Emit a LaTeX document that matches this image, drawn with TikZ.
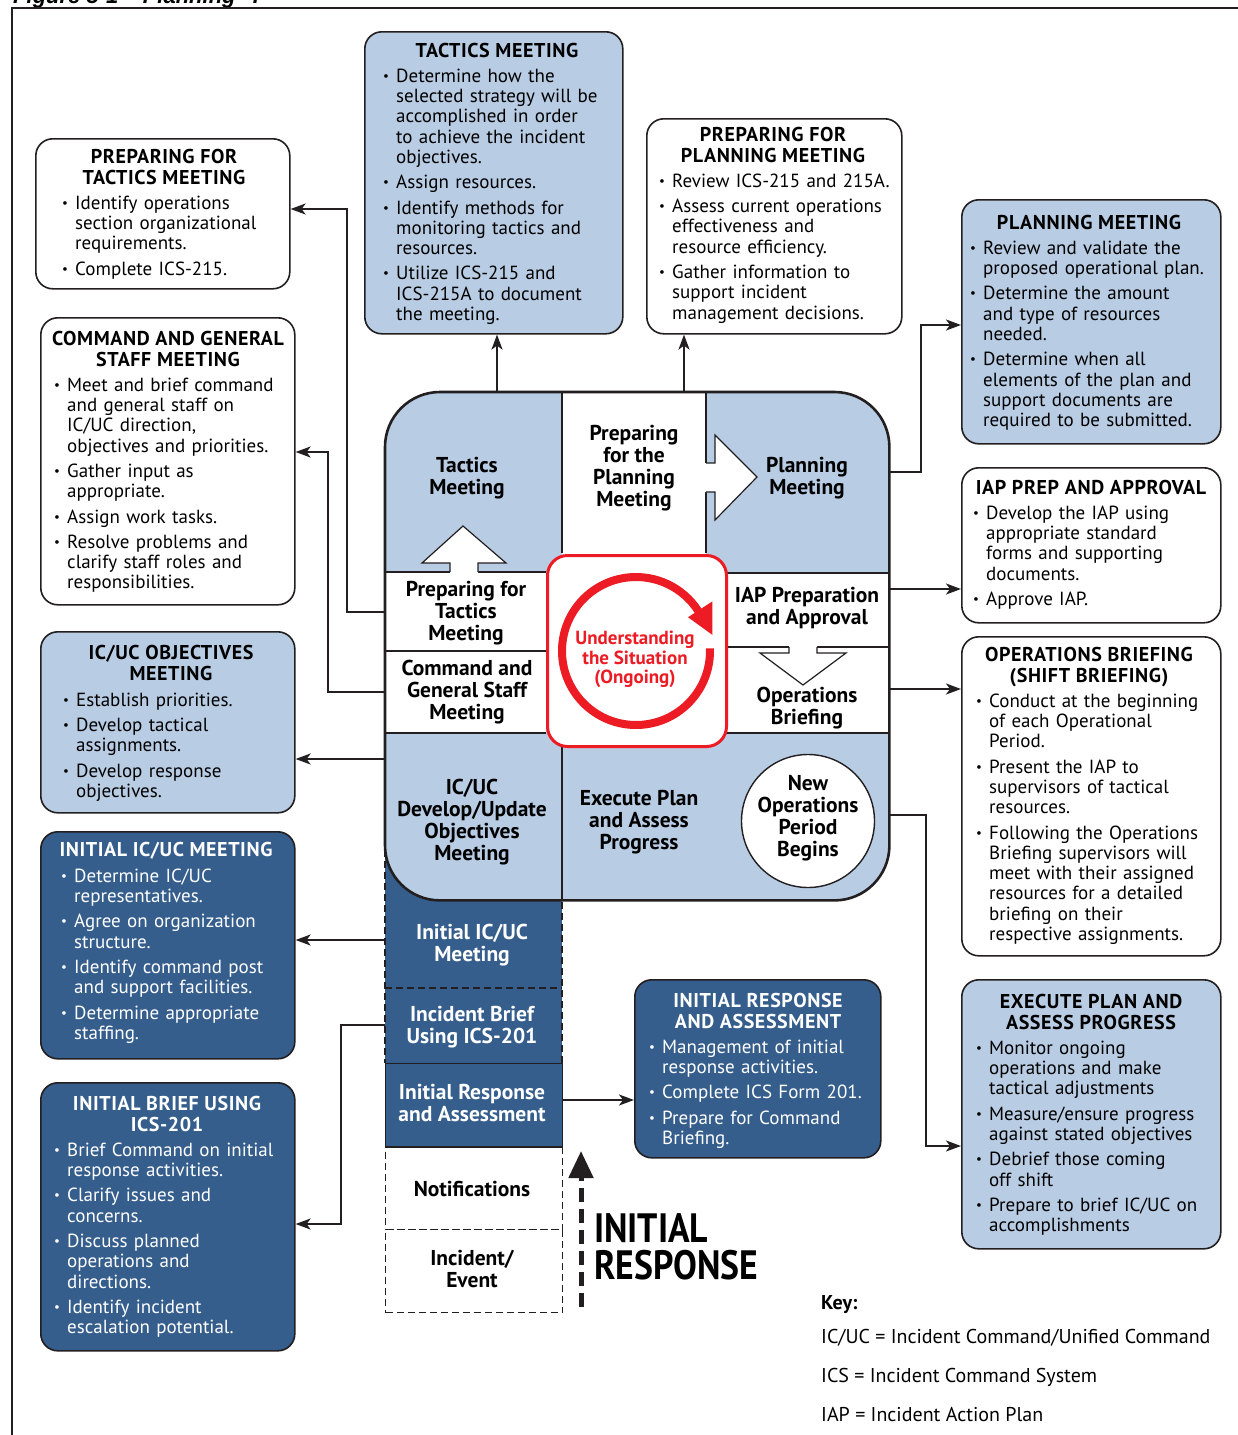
\documentclass[tikz,border=0pt]{standalone}
\usepackage{fontspec}
\usepackage{graphicx}
\setmainfont{PT Sans}
\newfontfamily\figfont{Liberation Sans}
\usetikzlibrary{arrows.meta,calc}

\definecolor{lb}{HTML}{B8CCE4}
\definecolor{db}{HTML}{355E8D}
\definecolor{rd}{HTML}{ED1C24}
\definecolor{ink}{HTML}{231F20}

\newcommand\bodyfont{\fontsize{19}{20.3}\selectfont}
\newcommand\headfont{\fontsize{20}{20.3}\selectfont\bfseries\addfontfeature{LetterSpace=3}}
\newcommand\cellfont{\fontsize{21.5}{22}\selectfont}
\newlength\bulw \setlength\bulw{13pt}
\newcommand\bulmark{\makebox[\bulw][l]{\raisebox{2pt}{\fontsize{13}{13}\selectfont •}}}
\newcommand\bulfirst{\noindent\hangindent=\bulw\hangafter=1\strut\bulmark}
\newcommand\bul{\par\vspace{5pt}\noindent\hangindent=\bulw\hangafter=1\bulmark}
\newcommand\nl{\newline}

\tikzset{
  panel/.style={draw=ink, line width=1.6pt, rounded corners=17pt, anchor=north west, inner sep=0pt},
  boxtitle/.style={anchor=north, align=center, inner sep=0pt, font=\headfont},
  boxitems/.style={anchor=north west, inner sep=0pt, text width=300pt, font=\bodyfont\raggedright},
  cell/.style={anchor=north, align=center, inner sep=0pt, font=\cellfont\bfseries},
  link/.style={draw=ink, line width=1.8pt, -{Stealth[length=15pt,width=11pt,inset=4pt]}},
  inner/.style={draw=ink, line width=1.3pt},
  dashline/.style={draw=ink, line width=1.2pt, dash pattern=on 7pt off 4pt},
  blockarrow/.style={fill=white},
  blockedge/.style={draw=ink, line width=1.2pt},
}

\begin{document}
\begin{tikzpicture}[x=1pt,y=-1pt]
\useasboundingbox (0,0) rectangle (1238,1435);

% page heading and frame
\node[anchor=base west, inner sep=0pt, font=\figfont\fontsize{22}{24}\selectfont\bfseries\itshape] (fig) at (13,3) {Figure 5-1 – Planning “P”};
\draw[ink, line width=2pt] (12,1435) -- (12,8) -- (1238,8);

% ---------- initial response column ----------
\node[fill=db, minimum width=177pt, minimum height=143pt, anchor=north west, inner sep=0pt] (c1) at (385,845) {};
\node[fill=db, minimum width=177pt, minimum height=75pt, anchor=north west, inner sep=0pt] (c2) at (385,988) {};
\draw[dashline] (385,850) -- (385,1063);
\draw[dashline] (562,880) -- (562,1063);
\draw[dashline] (385,988) -- (562,988);
\node[fill=db, draw=ink, line width=1.4pt, minimum width=177pt, minimum height=84pt, anchor=north west, inner sep=0pt] (c3) at (385,1063) {};
\node[dashline, minimum width=177pt, minimum height=82pt, anchor=north west, inner sep=0pt] (c4) at (385,1147) {};
\node[dashline, minimum width=177pt, minimum height=83pt, anchor=north west, inner sep=0pt] (c5) at (385,1229) {};
\draw[ink, line width=1.4pt] (c4.north west) -- (c4.north east);

\node[cell, text=white] (c1t) at (472,923.6) {\strut Initial IC/UC\\Meeting};
\node[cell, text=white] (c2t) at (472,1005.6) {\strut Incident Brief\\Using ICS-201};
\node[cell, text=white] (c3t) at (472,1083.6) {\strut Initial Response\\and Assessment};
\node[cell] (c4t) at (472,1180.6) {\strut Notifications};
\node[cell] (c5t) at (472,1249.6) {\strut Incident/\\Event};

% ---------- central planning cycle ----------
\node[fill=lb, rounded corners=55pt, minimum width=504pt, minimum height=508pt, anchor=north west, inner sep=0pt] (core) at (385,392) {};
\fill[white] (562,392) rectangle (706,560);
\fill[white] (385,572) rectangle (546,733);
\fill[white] (725,573) rectangle (889,733);

\draw[inner] (562,392) -- (562,553);
\draw[inner] (706,392) -- (706,463);
\draw[inner] (706,492) -- (706,553);
\draw[inner] (385,572) -- (546,572);
\draw[inner] (385,651) -- (546,651);
\draw[inner] (385,733) -- (546,733);
\draw[inner] (725,573) -- (889,573);
\draw[inner] (725,647) -- (889,647);
\draw[inner] (725,733) -- (889,733);
\draw[inner] (562,745) -- (562,900);

% hollow block arrows
\fill[blockarrow] (450,573) -- (450,563) -- (422,563) -- (463,526) -- (506,563) -- (478,563) -- (478,573) -- cycle;
\draw[blockedge] (450,572) -- (450,563) -- (422,563) -- (463,526) -- (506,563) -- (478,563) -- (478,572);
\fill[blockarrow] (705,463) -- (715,463) -- (715,435) -- (757,477) -- (715,520) -- (715,492) -- (705,492) -- cycle;
\draw[blockedge] (706,463) -- (715,463) -- (715,435) -- (757,477) -- (715,520) -- (715,492) -- (706,492);
\fill[blockarrow] (789,646) -- (789,653) -- (760,653) -- (803,685) -- (846,653) -- (817,653) -- (817,646) -- cycle;
\draw[blockedge] (789,647) -- (789,653) -- (760,653) -- (803,685) -- (846,653) -- (817,653) -- (817,647);

\node[circle, draw=ink, fill=white, line width=1.4pt, minimum size=133pt, inner sep=0pt] (nop) at (808,821) {};

\node[cell] (tmc) at (467,456.6) {\strut Tactics\\Meeting};
\node[cell] (ppc) at (634,424.6) {\strut Preparing\\for the\\Planning\\Meeting};
\node[cell] (pmc) at (807,456.6) {\strut Planning\\Meeting};
\node[cell] (ptc) at (466,580.6) {\strut Preparing for\\Tactics\\Meeting};
\node[cell] (cgc) at (467,659.6) {\strut Command and\\General Staff\\Meeting};
\node[cell] (iapc) at (807,586.6) {\strut IAP Preparation\\and Approval};
\node[cell] (obc) at (807,686.6) {\strut Operations\\Briefing};
\node[cell] (objc) at (472,778.6) {\strut IC/UC\\Develop/Update\\Objectives\\Meeting};
\node[cell] (epc) at (639,789.6) {\strut Execute Plan\\and Assess\\Progress};
\node[cell] (nopt) at (808,774.6) {\strut New\\Operations\\Period\\Begins};

% situation awareness loop
\node[draw=rd, fill=white, line width=3pt, rounded corners=20pt, minimum width=179pt, minimum height=191pt, anchor=north west, inner sep=0pt] (sit) at (546,554) {};
\coordinate (uc) at (636,651);
\draw[rd, line width=8pt] ($(uc)+(-2:74)$) arc[start angle=-2, end angle=331, radius=74];
\fill[rd] ($(uc)+(348:78)$) -- ($(uc)+(327:62)$) -- ($(uc)+(327:91)$) -- cycle;
\node[anchor=north, align=center, inner sep=0pt, text=rd, font=\fontsize{19}{19.5}\selectfont\bfseries] (sitt) at (635,631) {\strut Understanding\\the Situation\\(Ongoing)};

\draw[ink, line width=2.6pt, rounded corners=55pt] (core.north west) rectangle (core.south east);

% ---------- description panels ----------
% left
\node[panel, fill=white, minimum width=254pt, minimum height=150pt] (ptm) at (35,138) {};
\node[boxtitle] (ptmh) at (164,148.8) {\strut PREPARING FOR\\TACTICS MEETING};
\node[boxitems] (ptml) at (62,194.8) {\bulfirst Identify operations\nl section organizational\nl requirements.
\bul Complete ICS-215.\par};

\node[panel, fill=white, minimum width=254pt, minimum height=287pt] (cgs) at (40,317) {};
\node[boxtitle] (cgsh) at (168,330.8) {\strut COMMAND AND GENERAL\\STAFF MEETING};
\node[boxitems] (cgsl) at (54,376.8) {\bulfirst Meet and brief command\nl and general staff on\nl IC/UC direction,\nl objectives and priorities.
\bul Gather input as\nl appropriate.
\bul Assign work tasks.
\bul Resolve problems and\nl clarify staff roles and\nl responsibilities.\par};

\node[panel, fill=lb, minimum width=254pt, minimum height=181pt] (obj) at (40,631) {};
\node[boxtitle] (objh) at (171,644.8) {\strut IC/UC OBJECTIVES\\MEETING};
\node[boxitems] (objl) at (63,691.8) {\bulfirst Establish priorities.
\bul Develop tactical\nl assignments.
\bul Develop response\nl objectives.\par};

\node[panel, fill=db, minimum width=254pt, minimum height=227pt] (iic) at (40,831) {};
\node[boxtitle, text=white] (iich) at (166,841.8) {\strut INITIAL IC/UC MEETING};
\node[boxitems, text=white] (iicl) at (61,867.8) {\bulfirst Determine IC/UC\nl representatives.
\bul Agree on organization\nl structure.
\bul Identify command post\nl and support facilities.
\bul Determine appropriate\nl staffing.\par};

\node[panel, fill=db, minimum width=254pt, minimum height=268pt] (ib) at (40,1082) {};
\node[boxtitle, text=white] (ibh) at (167,1095.8) {\strut INITIAL BRIEF USING\\ICS-201};
\node[boxitems, text=white] (ibl) at (54,1141.8) {\bulfirst Brief Command on initial\nl response activities.
\bul Clarify issues and\nl concerns.
\bul Discuss planned\nl operations and\nl directions.
\bul Identify incident\nl escalation potential.\par};

% top
\node[panel, fill=lb, minimum width=258pt, minimum height=302pt] (tm) at (364,31) {};
\node[boxtitle] (tmh) at (497,42.8) {\strut TACTICS MEETING};
\node[boxitems] (tml) at (383,67.8) {\bulfirst Determine how the\nl selected strategy will be\nl accomplished in order\nl to achieve the incident\nl objectives.
\bul Assign resources.
\bul Identify methods for\nl monitoring tactics and\nl resources.
\bul Utilize ICS-215 and\nl ICS-215A to document\nl the meeting.\par};

\node[panel, fill=white, minimum width=255pt, minimum height=215pt] (ppm) at (646,118) {};
\node[boxtitle] (ppmh) at (773,126.8) {\strut PREPARING FOR\\PLANNING MEETING};
\node[boxitems] (ppml) at (659,172.8) {\bulfirst Review ICS-215 and 215A.
\bul Assess current operations\nl effectiveness and\nl resource efficiency.
\bul Gather information to\nl support incident\nl management decisions.\par};

% right
\node[panel, fill=lb, minimum width=259pt, minimum height=244pt] (pm) at (961,199) {};
\node[boxtitle] (pmh) at (1089,214.8) {\strut PLANNING MEETING};
\node[boxitems] (pml) at (970,239.8) {\bulfirst Review and validate the\nl proposed operational plan.
\bul Determine the amount\nl and type of resources\nl needed.
\bul Determine when all\nl elements of the plan and\nl support documents are\nl required to be submitted.\par};

\node[panel, fill=white, minimum width=259pt, minimum height=155pt] (iap) at (961,467) {};
\node[boxtitle] (iaph) at (1091,479.8) {\strut IAP PREP AND APPROVAL};
\node[boxitems] (iapl) at (973,504.8) {\bulfirst Develop the IAP using\nl appropriate standard\nl forms and supporting\nl documents.
\bul Approve IAP.\par};

\node[panel, fill=white, minimum width=259pt, minimum height=319pt] (ob) at (961,636) {};
\node[boxtitle] (obh) at (1089,646.8) {\strut OPERATIONS BRIEFING\\(SHIFT BRIEFING)};
\node[boxitems] (obl) at (976,692.8) {\bulfirst Conduct at the beginning\nl of each Operational\nl Period.
\bul Present the IAP to\nl supervisors of tactical\nl resources.
\bul Following the Operations\nl Briefing supervisors will\nl meet with their assigned\nl resources for a detailed\nl briefing on their\nl respective assignments.\par};

\node[panel, fill=lb, minimum width=259pt, minimum height=269pt] (ep) at (961,979) {};
\node[boxtitle] (eph) at (1091,993.8) {\strut EXECUTE PLAN AND\\ASSESS PROGRESS};
\node[boxitems] (epl) at (976,1039.8) {\bulfirst Monitor ongoing\nl operations and make\nl tactical adjustments
\bul Measure/ensure progress\nl against stated objectives
\bul Debrief those coming\nl off shift
\bul Prepare to brief IC/UC on\nl accomplishments\par};

% bottom middle
\node[panel, fill=db, minimum width=246pt, minimum height=178pt] (ira) at (634,979) {};
\node[boxtitle, text=white] (irah) at (758,992.8) {\strut INITIAL RESPONSE\\AND ASSESSMENT};
\node[boxitems, text=white] (iral) at (649,1038.8) {\bulfirst Management of initial\nl response activities.
\bul Complete ICS Form 201.
\bul Prepare for Command\nl Briefing.\par};

% ---------- connectors ----------
\draw[link] (core.west |- 0,612) -- (347,612) |- (ptm.east |- 0,209);
\draw[link] (core.west |- 0,692) -- (328,692) |- (cgs.east |- 0,452);
\draw[link] (core.west |- 0,759) -- (obj.east |- 0,759);
\draw[link] (c1.west |- 0,940) -- (iic.east |- 0,940);
\draw[link] (c2.west |- 0,1025) -- (341,1025) |- (ib.east |- 0,1224);
\draw[link] (c3.east |- 0,1100) -- (ira.west |- 0,1100);
\draw[link] (core.north -| 497,0) -- (tm.south -| 497,0);
\draw[link] (core.north -| 684,0) -- (ppm.south -| 684,0);
\draw[link] (core.east |- 0,472) -- (921,472) |- (pm.west |- 0,325);
\draw[link] (core.east |- 0,589) -- (iap.west |- 0,589);
\draw[link] (core.east |- 0,689) -- (ob.west |- 0,689);
\draw[link] (core.east |- 0,815) -- (926,815) |- (ep.west |- 0,1146);

% initial response marker
\coordinate (irs) at (581,1307);
\coordinate (ire) at (581,1151);
\draw[ink, line width=5pt, dash pattern=on 14pt off 7pt, -{Triangle[length=27pt,width=24pt]}] (irs) -- (ire);
\node[anchor=base west, inner sep=0pt, font=\fontsize{41}{37}\selectfont\bfseries] (ir1) at (594,1242) {\scalebox{0.87}[1]{INITIAL}};
\node[anchor=base west, inner sep=0pt, font=\fontsize{41}{37}\selectfont\bfseries] (ir2) at (594,1279) {\scalebox{0.87}[1]{RESPONSE}};

% key
\node[anchor=base west, inner sep=0pt, font=\fontsize{20}{22}\selectfont\bfseries] (key) at (821,1309) {Key:};
\node[anchor=base west, inner sep=0pt, font=\fontsize{20}{22}\selectfont] (k1) at (821,1343) {IC/UC = Incident Command/Unified Command};
\node[anchor=base west, inner sep=0pt, font=\fontsize{20}{22}\selectfont] (k2) at (821,1382) {ICS = Incident Command System};
\node[anchor=base west, inner sep=0pt, font=\fontsize{20}{22}\selectfont] (k3) at (821,1421) {IAP = Incident Action Plan};
\end{tikzpicture}
\end{document}
